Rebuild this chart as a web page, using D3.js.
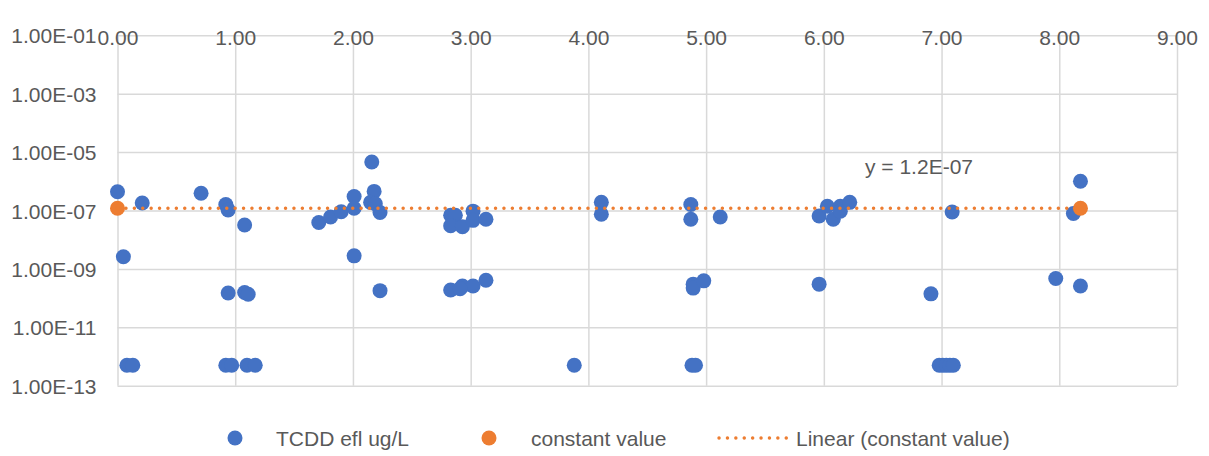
<!DOCTYPE html>
<html>
<head>
<meta charset="utf-8">
<script src="https://cdn.jsdelivr.net/npm/d3@7"></script>
<style>
  html, body { margin: 0; padding: 0; background: #fff; }
  svg { display: block; }
  text { font-family: "Liberation Sans", Arial, sans-serif; fill: #595959; }
</style>
</head>
<body>
<svg id="chart" width="1209" height="456"></svg>
<script>
// ---------- data ----------
const seriesNames = ["TCDD efl ug/L", "constant value", "Linear (constant value)"];
const tcddX = [0.00, 0.21, 0.05, 0.08, 0.13, 0.71, 0.92, 0.94, 1.08, 0.94, 1.08, 1.11, 0.92, 0.97, 1.10, 1.17,
  1.71, 1.81, 1.90, 2.01, 2.01, 2.16, 2.18, 2.15, 2.19, 2.23, 2.01, 2.23,
  2.83, 2.87, 2.83, 2.93, 3.02, 3.02, 3.13, 2.83, 2.93, 3.02, 3.13, 2.91,
  3.88, 4.11, 4.11, 4.87, 4.87, 5.12, 4.89, 4.89, 4.98, 4.88, 4.91,
  5.96, 6.03, 6.08, 6.14, 6.14, 6.22, 5.96, 6.91, 7.09, 6.98, 7.01, 7.04, 7.07, 7.10,
  7.97, 8.12, 8.18, 8.18];
const tcddY = [4.4e-7, 1.8e-7, 2.6e-9, 5e-13, 5e-13, 3.9e-7, 1.6e-7, 1.05e-7, 3.2e-8, 1.5e-10, 1.55e-10, 1.35e-10, 5e-13, 5e-13, 5e-13, 5e-13,
  3.9e-8, 6e-8, 9.1e-8, 3e-7, 1.2e-7, 4.6e-6, 4.5e-7, 1.9e-7, 1.7e-7, 8.5e-8, 2.8e-9, 1.8e-10,
  6.9e-8, 6.9e-8, 3e-8, 2.8e-8, 9.5e-8, 4.6e-8, 5e-8, 1.9e-10, 2.6e-10, 2.6e-10, 4.1e-10, 2.1e-10,
  5e-13, 1.9e-7, 7.4e-8, 1.6e-7, 5e-8, 6e-8, 3e-10, 2.2e-10, 3.9e-10, 5e-13, 5e-13,
  6.5e-8, 1.4e-7, 5e-8, 1.4e-7, 9.5e-8, 1.9e-7, 3e-10, 1.4e-10, 8.9e-8, 5e-13, 5e-13, 5e-13, 5e-13, 5e-13,
  4.7e-10, 7.9e-8, 1.0e-6, 2.6e-10];
const constX = [0.00, 8.18];
const constY = [1.2e-7, 1.2e-7];
const trendLabel = "y = 1.2E-07";
const xTicks = [0, 1, 2, 3, 4, 5, 6, 7, 8, 9];
const yTicks = [1e-1, 1e-3, 1e-5, 1e-7, 1e-9, 1e-11, 1e-13];

// ---------- layout ----------
const W = 1209, H = 456;
const pLeft = 117.5, pRight = 1177, pTop = 35.3, pBottom = 385.7;
const blue = "#4472C4", orange = "#ED7D31", grid = "#D9D9D9";

const svg = d3.select("#chart");
svg.append("rect").attr("width", W).attr("height", H).attr("fill", "#fff");

const x = d3.scaleLinear().domain([0, 9]).range([pLeft, pRight]);
const y = d3.scaleLog().domain([1e-13, 1e-1]).range([pBottom, pTop]);

const fmtY = v => {
  const e = Math.round(Math.log10(v));
  const s = Math.abs(e).toString().padStart(2, "0");
  return "1.00E" + (e < 0 ? "-" : "+") + s;
};

// y axis + horizontal gridlines
const gy = svg.append("g").attr("transform", `translate(${pLeft},0)`)
  .call(d3.axisLeft(y).tickValues(yTicks).tickFormat(fmtY).tickSize(-(pRight - pLeft)).tickPadding(21));
gy.select(".domain").remove();
gy.selectAll("line").attr("stroke", grid).attr("stroke-width", 1.5);
gy.selectAll("text").attr("font-size", 21).attr("fill", "#595959")
  .attr("font-family", "Liberation Sans, Arial, sans-serif").attr("dy", "0.36em");

// x axis at top + vertical gridlines
const gx = svg.append("g").attr("transform", `translate(0,${pTop})`)
  .call(d3.axisTop(x).tickValues(xTicks).tickFormat(d => d.toFixed(2)).tickSize(-(pBottom - pTop)));
gx.select(".domain").remove();
gx.selectAll("line").attr("stroke", grid).attr("stroke-width", 1.5);
gx.selectAll("text").attr("font-size", 21).attr("fill", "#595959")
  .attr("font-family", "Liberation Sans, Arial, sans-serif").attr("y", 10).attr("dy", 0);

// blue series
const tcdd = tcddX.map((v, i) => ({ x: v, y: tcddY[i] }));
svg.append("g").selectAll("circle").data(tcdd).join("circle")
  .attr("cx", d => x(d.x)).attr("cy", d => y(d.y)).attr("r", 7.5).attr("fill", blue);

// orange series
const cons = constX.map((v, i) => ({ x: v, y: constY[i] }));
svg.append("g").selectAll("circle").data(cons).join("circle")
  .attr("cx", d => x(d.x)).attr("cy", d => y(d.y)).attr("r", 7.5).attr("fill", orange);

// trendline (constant)
const meanY = d3.mean(constY);
const trend = [{ x: d3.min(constX), y: meanY }, { x: d3.max(constX), y: meanY }];
svg.append("path").datum(trend)
  .attr("d", d3.line().x(d => x(d.x)).y(d => y(d.y)))
  .attr("fill", "none").attr("stroke", orange).attr("stroke-width", 3.4)
  .attr("stroke-linecap", "round").attr("stroke-dasharray", "0.1 8.3");

svg.append("text").attr("x", 865).attr("y", 173.5).attr("font-size", 21).text(trendLabel);

// legend
const ly = 438;
const lg = svg.append("g");
lg.append("circle").attr("cx", 235).attr("cy", ly).attr("r", 7.5).attr("fill", blue);
lg.append("text").attr("x", 276).attr("y", ly + 7.5).attr("font-size", 21).text(seriesNames[0]);
lg.append("circle").attr("cx", 489).attr("cy", ly).attr("r", 7.5).attr("fill", orange);
lg.append("text").attr("x", 531).attr("y", ly + 7.5).attr("font-size", 21).text(seriesNames[1]);
lg.append("line").attr("x1", 719).attr("x2", 789).attr("y1", ly).attr("y2", ly)
  .attr("stroke", orange).attr("stroke-width", 3.4).attr("stroke-linecap", "round").attr("stroke-dasharray", "0.1 8.3");
lg.append("text").attr("x", 796).attr("y", ly + 7.5).attr("font-size", 21).text(seriesNames[2]);
</script>
</body>
</html>
